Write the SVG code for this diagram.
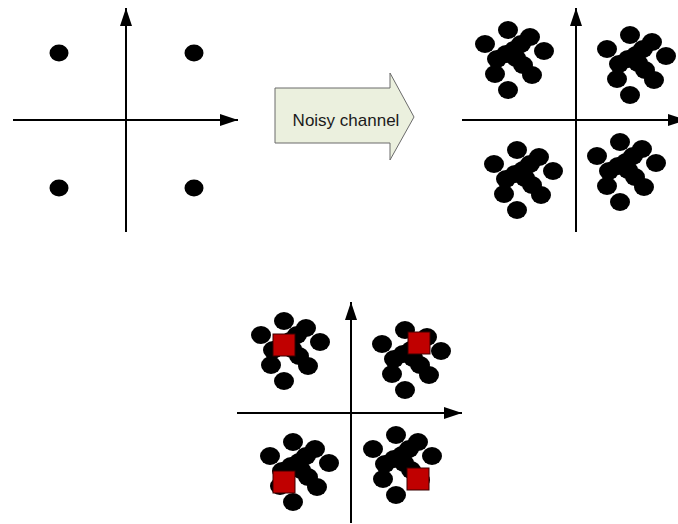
<svg xmlns="http://www.w3.org/2000/svg" xmlns:xlink="http://www.w3.org/1999/xlink" width="678" height="524" viewBox="0 0 678 524">
  <style>
    .axis { stroke: #000; stroke-width: 2; fill: none; }
    .dot { fill: #000; }
    .sym { fill: #c00000; stroke: #3a0000; stroke-width: 1; }
    .block { fill: #ebf0de; stroke: #6b6b6b; stroke-width: 1; }
    .label { font-family: "Liberation Sans", Arial, sans-serif; font-size: 17px; fill: #1a1a1a; }
  </style>
  <defs>
    <marker id="head" viewBox="0 0 18 12" refX="18" refY="6" markerWidth="18" markerHeight="12" markerUnits="userSpaceOnUse" orient="auto">
      <path d="M0,0 L18,6 L0,12 Z" fill="#000"/>
    </marker>
    <!-- received symbols scattered around one constellation point (origin = topmost dot) -->
    <g id="cloud">
      <ellipse class="dot" cx="0" cy="0" rx="10" ry="9"/>
      <ellipse class="dot" cx="-23" cy="14" rx="10" ry="9"/>
      <ellipse class="dot" cx="22" cy="7" rx="10" ry="9"/>
      <ellipse class="dot" cx="36" cy="21" rx="10" ry="9"/>
      <ellipse class="dot" cx="13" cy="14" rx="10" ry="9"/>
      <ellipse class="dot" cx="6" cy="20" rx="10" ry="9"/>
      <ellipse class="dot" cx="-2" cy="24" rx="10" ry="9"/>
      <ellipse class="dot" cx="-11" cy="29" rx="10" ry="9"/>
      <ellipse class="dot" cx="-13" cy="44" rx="10" ry="9"/>
      <ellipse class="dot" cx="8" cy="28" rx="10" ry="9"/>
      <ellipse class="dot" cx="15" cy="35" rx="10" ry="9"/>
      <ellipse class="dot" cx="24" cy="45" rx="10" ry="9"/>
      <ellipse class="dot" cx="0" cy="60" rx="10" ry="9"/>
    </g>
  </defs>

  <!-- transmitted constellation -->
  <g id="tx-constellation">
    <line class="axis" x1="13" y1="120" x2="238" y2="120" marker-end="url(#head)"/>
    <line class="axis" x1="126" y1="232" x2="126" y2="8" marker-end="url(#head)"/>
    <ellipse class="dot" cx="59" cy="53" rx="9.5" ry="8.5"/>
    <ellipse class="dot" cx="194" cy="53" rx="9.5" ry="8.5"/>
    <ellipse class="dot" cx="59" cy="188" rx="9.5" ry="8.5"/>
    <ellipse class="dot" cx="194" cy="188" rx="9.5" ry="8.5"/>
  </g>

  <!-- channel block arrow -->
  <g id="channel">
    <path class="block" d="M275,88 L390,88 L390,73 L414,117 L390,160 L390,143 L275,143 Z"/>
    <text class="label" x="346" y="126" text-anchor="middle">Noisy channel</text>
  </g>

  <!-- received constellation -->
  <g id="rx-constellation">
    <line class="axis" x1="462" y1="120" x2="686" y2="120" marker-end="url(#head)"/>
    <line class="axis" x1="576" y1="232" x2="576" y2="8" marker-end="url(#head)"/>
    <use xlink:href="#cloud" x="508" y="30"/>
    <use xlink:href="#cloud" x="630" y="35"/>
    <use xlink:href="#cloud" x="517" y="150"/>
    <use xlink:href="#cloud" x="620" y="142"/>
  </g>

  <!-- received constellation with reference symbols -->
  <g id="decision">
    <line class="axis" x1="237" y1="413" x2="462" y2="413" marker-end="url(#head)"/>
    <line class="axis" x1="351" y1="523" x2="351" y2="302" marker-end="url(#head)"/>
    <use xlink:href="#cloud" x="284" y="321"/>
    <use xlink:href="#cloud" x="405" y="330"/>
    <use xlink:href="#cloud" x="293" y="442"/>
    <use xlink:href="#cloud" x="396" y="435"/>
    <rect class="sym" x="273" y="334" width="22" height="22"/>
    <rect class="sym" x="408" y="332" width="22" height="22"/>
    <rect class="sym" x="273" y="471" width="22" height="22"/>
    <rect class="sym" x="407" y="468" width="22" height="22"/>
  </g>
</svg>
